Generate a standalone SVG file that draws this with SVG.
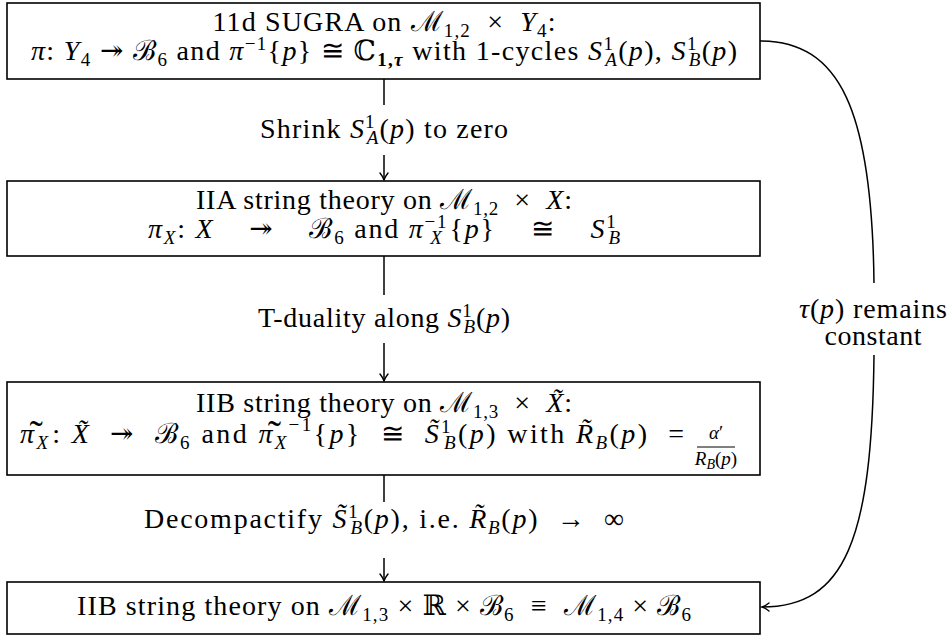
<svg xmlns="http://www.w3.org/2000/svg" width="949" height="637" viewBox="0 0 949 637">
<style>
.box{fill:#fff;stroke:#000;stroke-width:1.6}
.t{font-family:"Liberation Serif","DejaVu Serif",serif;font-size:28px;fill:#000}
.i{font-style:italic}
.s{font-size:19px}
.b{font-weight:bold}
.w{font-size:40px;font-style:normal}
.e{fill:none;stroke:#000;stroke-width:1.5}
</style>
<defs>
<marker id="ah" markerUnits="userSpaceOnUse" viewBox="-10 -6 12 12" refX="0" refY="0" markerWidth="12" markerHeight="12" orient="auto">
<path d="M-7,-4 Q-3,-0.8 0,0 Q-3,0.8 -7,4" fill="none" stroke="#000" stroke-width="1.4" stroke-linecap="round"/>
</marker>
</defs>

<g id="connectors">
<line class="e" x1="384" y1="79" x2="384" y2="105"/>
<line class="e" x1="384" y1="155" x2="384" y2="180" marker-end="url(#ah)"/>
<line class="e" x1="384" y1="256" x2="384" y2="295"/>
<line class="e" x1="384" y1="343" x2="384" y2="381" marker-end="url(#ah)"/>
<line class="e" x1="384" y1="475" x2="384" y2="502"/>
<line class="e" x1="384" y1="558" x2="384" y2="581" marker-end="url(#ah)"/>
<path class="e" d="M760,41 C840,41 872,110 874,283"/>
<path class="e" d="M874,355 C872,540 845,607 762,607" marker-end="url(#ah)"/>
<text class="t" x="384" y="138" text-anchor="middle" textLength="248" lengthAdjust="spacing">Shrink <tspan class="i">S</tspan><tspan class="s" baseline-shift="10px">1</tspan><tspan class="s i" dx="-9" baseline-shift="-6px">A</tspan>(<tspan class="i">p</tspan>) to zero</text>
<text class="t" x="384" y="327" text-anchor="middle" textLength="252" lengthAdjust="spacing">T-duality along <tspan class="i">S</tspan><tspan class="s" baseline-shift="10px">1</tspan><tspan class="s i" dx="-9" baseline-shift="-6px">B</tspan>(<tspan class="i">p</tspan>)</text>
<text class="t" x="384" y="528" text-anchor="middle" textLength="480" lengthAdjust="spacing">Decompactify <tspan class="i">S&#771;</tspan><tspan class="s" baseline-shift="10px">1</tspan><tspan class="s i" dx="-9" baseline-shift="-6px">B</tspan>(<tspan class="i">p</tspan>), i.e. <tspan class="i">R&#771;</tspan><tspan class="s i" baseline-shift="-6px">B</tspan>(<tspan class="i">p</tspan>)&#160; &#8594;&#160; &#8734;</text>
<text class="t" x="873" y="318" text-anchor="middle" textLength="148" lengthAdjust="spacing"><tspan class="i">τ</tspan>(<tspan class="i">p</tspan>) remains</text>
<text class="t" x="873" y="345" text-anchor="middle" textLength="97" lengthAdjust="spacing">constant</text>
</g>

<g id="node1">
<rect class="box" x="7" y="3" width="753" height="76"/>
<text class="t" x="384" y="31" text-anchor="middle" textLength="343" lengthAdjust="spacing">11d SUGRA on ℳ<tspan class="s" baseline-shift="-6px">1,2</tspan>&#160;&#160;×&#160;&#160;<tspan class="i">Y</tspan><tspan class="s" baseline-shift="-6px">4</tspan>:</text>
<text class="t" x="384" y="60" text-anchor="middle" textLength="706" lengthAdjust="spacing"><tspan class="i">π</tspan>: <tspan class="i">Y</tspan><tspan class="s" baseline-shift="-6px">4</tspan> ↠ ℬ<tspan class="s" baseline-shift="-6px">6</tspan> and <tspan class="i">π</tspan><tspan class="s" baseline-shift="10px">−1</tspan>{<tspan class="i">p</tspan>} ≅ ℂ<tspan class="s b" baseline-shift="-6px">1,<tspan class="i">τ</tspan></tspan> with 1-cycles <tspan class="i">S</tspan><tspan class="s" baseline-shift="10px">1</tspan><tspan class="s i" dx="-9" baseline-shift="-6px">A</tspan>(<tspan class="i">p</tspan>), <tspan class="i">S</tspan><tspan class="s" baseline-shift="10px">1</tspan><tspan class="s i" dx="-9" baseline-shift="-6px">B</tspan>(<tspan class="i">p</tspan>)</text>
</g>

<g id="node2">
<rect class="box" x="7" y="181" width="753" height="75"/>
<text class="t" x="384" y="209" text-anchor="middle" textLength="376" lengthAdjust="spacing">IIA string theory on ℳ<tspan class="s" baseline-shift="-6px">1,2</tspan>&#160;&#160;×&#160;&#160;<tspan class="i">X</tspan>:</text>
<text class="t" x="384" y="238" text-anchor="middle" textLength="472" lengthAdjust="spacing"><tspan class="i">π</tspan><tspan class="s i" baseline-shift="-6px">X</tspan>: <tspan class="i">X</tspan>&#160;&#160;&#160;&#160;↠&#160;&#160;&#160;&#160;ℬ<tspan class="s" baseline-shift="-6px">6</tspan> and <tspan class="i">π</tspan><tspan class="s" baseline-shift="10px">−1</tspan><tspan class="s i" dx="-18" baseline-shift="-6px">X</tspan><tspan dx="6">{</tspan><tspan class="i">p</tspan>}&#160;&#160;&#160;&#160;≅&#160;&#160;&#160;&#160;<tspan class="i">S</tspan><tspan class="s" baseline-shift="10px">1</tspan><tspan class="s i" dx="-9" baseline-shift="-6px">B</tspan></text>
</g>

<g id="node3">
<rect class="box" x="7" y="382" width="753" height="93"/>
<text class="t" x="384" y="412" text-anchor="middle" textLength="376" lengthAdjust="spacing">IIB string theory on ℳ<tspan class="s" baseline-shift="-6px">1,3</tspan>&#160;&#160;×&#160;&#160;<tspan class="i">X&#771;</tspan>:</text>
<text class="t" x="20" y="443" textLength="664" lengthAdjust="spacing"><tspan class="i">π</tspan><tspan class="s i" baseline-shift="-6px">X</tspan><tspan class="w" dx="-21" baseline-shift="-5px">˜</tspan><tspan dx="7">: </tspan><tspan class="i">X&#771;</tspan>&#160; ↠&#160; ℬ<tspan class="s" baseline-shift="-6px">6</tspan> and <tspan class="i">π</tspan><tspan class="s i" baseline-shift="-6px">X</tspan><tspan class="w" dx="-21" baseline-shift="-5px">˜</tspan><tspan class="s" dx="5" baseline-shift="12px">−1</tspan>{<tspan class="i">p</tspan>}&#160; ≅&#160; <tspan class="i">S&#771;</tspan><tspan class="s" baseline-shift="10px">1</tspan><tspan class="s i" dx="-9" baseline-shift="-6px">B</tspan>(<tspan class="i">p</tspan>) with <tspan class="i">R&#771;</tspan><tspan class="s i" baseline-shift="-6px">B</tspan>(<tspan class="i">p</tspan>)&#160; =</text>
<text class="t s" x="716" y="439" text-anchor="middle"><tspan class="i">α</tspan>′</text>
<line x1="697" y1="447" x2="735" y2="447" stroke="#000" stroke-width="1"/>
<text class="t s" x="716" y="465" text-anchor="middle"><tspan class="i">R</tspan><tspan class="i" font-size="14px" baseline-shift="-4px">B</tspan>(<tspan class="i">p</tspan>)</text>
</g>

<g id="node4">
<rect class="box" x="7" y="582" width="753" height="52"/>
<text class="t" x="384" y="615" text-anchor="middle" textLength="614" lengthAdjust="spacing">IIB string theory on ℳ<tspan class="s" baseline-shift="-6px">1,3</tspan> × ℝ × ℬ<tspan class="s" baseline-shift="-6px">6</tspan>&#160;&#160;≡&#160;&#160;ℳ<tspan class="s" baseline-shift="-6px">1,4</tspan> × ℬ<tspan class="s" baseline-shift="-6px">6</tspan></text>
</g>
</svg>
